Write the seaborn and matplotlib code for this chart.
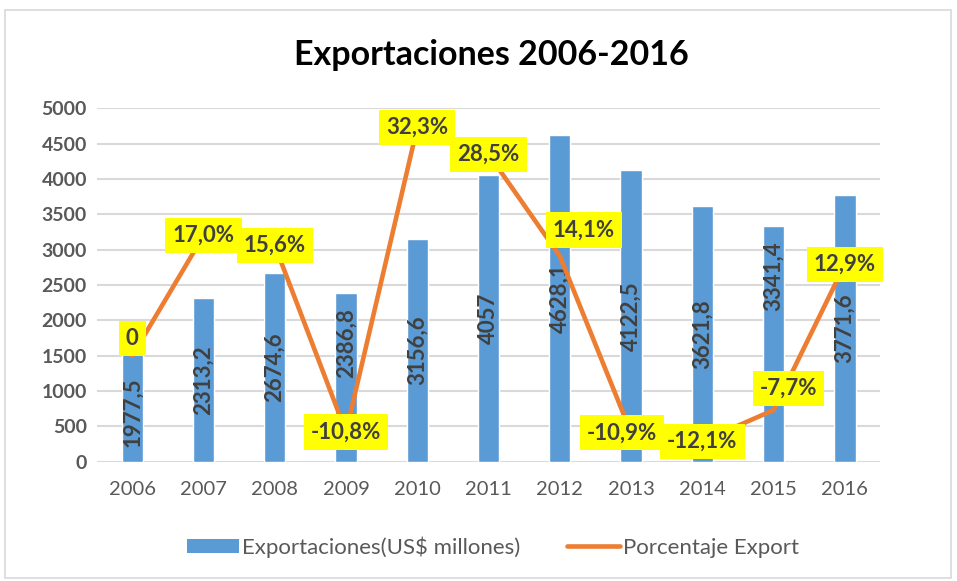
import numpy as np
import pandas as pd
import matplotlib
matplotlib.use('Agg')
import matplotlib.pyplot as plt
import seaborn as sns
from matplotlib.patches import Rectangle, Patch
from matplotlib.lines import Line2D

# Datos
anios = ['2006', '2007', '2008', '2009', '2010', '2011', '2012', '2013', '2014', '2015', '2016']
exportaciones = [1977.5, 2313.2, 2674.6, 2386.8, 3156.6, 4057, 4628.1, 4122.5, 3621.8, 3341.4, 3771.6]
porcentaje = [0, 17.0, 15.6, -10.8, 32.3, 28.5, 14.1, -10.9, -12.1, -7.7, 12.9]

AZUL = '#5B9BD5'
NARANJA = '#ED7D31'
GRIS = '#595959'
OSCURO = '#404040'

sns.set_style('white')
plt.rcParams['font.family'] = ['Lato', 'DejaVu Sans']


def fmt_num(v):
    s = f'{v:.1f}'.replace('.', ',')
    return s[:-2] if s.endswith(',0') else s


def fmt_pct(v):
    return '0' if v == 0 else f'{v:.1f}'.replace('.', ',') + '%'


df = pd.DataFrame({'Año': anios, 'Exportaciones': exportaciones, 'Porcentaje': porcentaje})

fig = plt.figure(figsize=(9.57, 5.81), dpi=100)
fig.patches.append(Rectangle((5 / 957, 3 / 581), 946 / 957, 568 / 581, transform=fig.transFigure,
                             fill=False, edgecolor='#D9D9D9', lw=1.2))

ax = fig.add_axes([0.101, 0.2053, 0.819, 0.6083])
sns.barplot(data=df, x='Año', y='Exportaciones', color=AZUL, saturation=1, width=0.3, ax=ax)
ax.set_ylim(0, 5000)
ax.set_yticks(range(0, 5001, 500))
ax.yaxis.grid(True, color='#D9D9D9', lw=1.5)
ax.set_axisbelow(True)
for s in ax.spines.values():
    s.set_visible(False)
ax.set_xlabel('')
ax.set_ylabel('')
ax.tick_params(axis='both', length=0)
ax.tick_params(axis='y', pad=7, labelsize=14, labelcolor=GRIS)
ax.tick_params(axis='x', pad=14, labelsize=14.5, labelcolor=GRIS)
for t in ax.get_yticklabels():
    t.set_fontweight('bold')

# etiquetas de barras (algunas movidas a mano en el original)
pos_etiqueta = {0: 703, 3: 1672, 9: 2631}
for i, v in enumerate(exportaciones):
    y = pos_etiqueta.get(i, v / 2)
    ax.text(i, y, fmt_num(v), rotation=90, ha='center', va='center',
            fontsize=16, fontweight='bold', color=OSCURO)

# eje secundario para el porcentaje
ax2 = ax.twinx()
sns.lineplot(x=np.arange(len(anios)), y=porcentaje, ax=ax2, color=NARANJA, lw=3.3)
ax2.set_ylim(-15, 35)
ax2.set_axis_off()
ax.set_xlim(-0.5, len(anios) - 0.5)

desplaz = {0: (0, 17), 6: (24, 26), 7: (-9, 0), 9: (15, 22)}
for i, p in enumerate(porcentaje):
    ax2.annotate(fmt_pct(p), (i, p), xytext=desplaz.get(i, (0, 0)), textcoords='offset pixels',
                 ha='center', va='center', fontsize=16, fontweight='bold', color=OSCURO,
                 bbox=dict(boxstyle='square,pad=0.32', fc='#FFFF00', ec='none'), zorder=5)

fig.text(0.513, 1 - 55 / 581, 'Exportaciones 2006-2016', ha='center', va='center',
         fontsize=24.5, fontweight='bold', color='black')

handles = [Patch(facecolor=AZUL, edgecolor='none'),
           Line2D([], [], color=NARANJA, lw=3.3, solid_capstyle='round')]
fig.legend(handles, ['Exportaciones(US$ millones)', 'Porcentaje Export'],
           loc='center', bbox_to_anchor=(0.515, 1 - 547 / 581), ncol=2, frameon=False,
           fontsize=16, labelcolor=GRIS, handlelength=2.35, handleheight=0.55,
           handletextpad=0.15, columnspacing=2.1)

fig.savefig('out.png', dpi=100)
